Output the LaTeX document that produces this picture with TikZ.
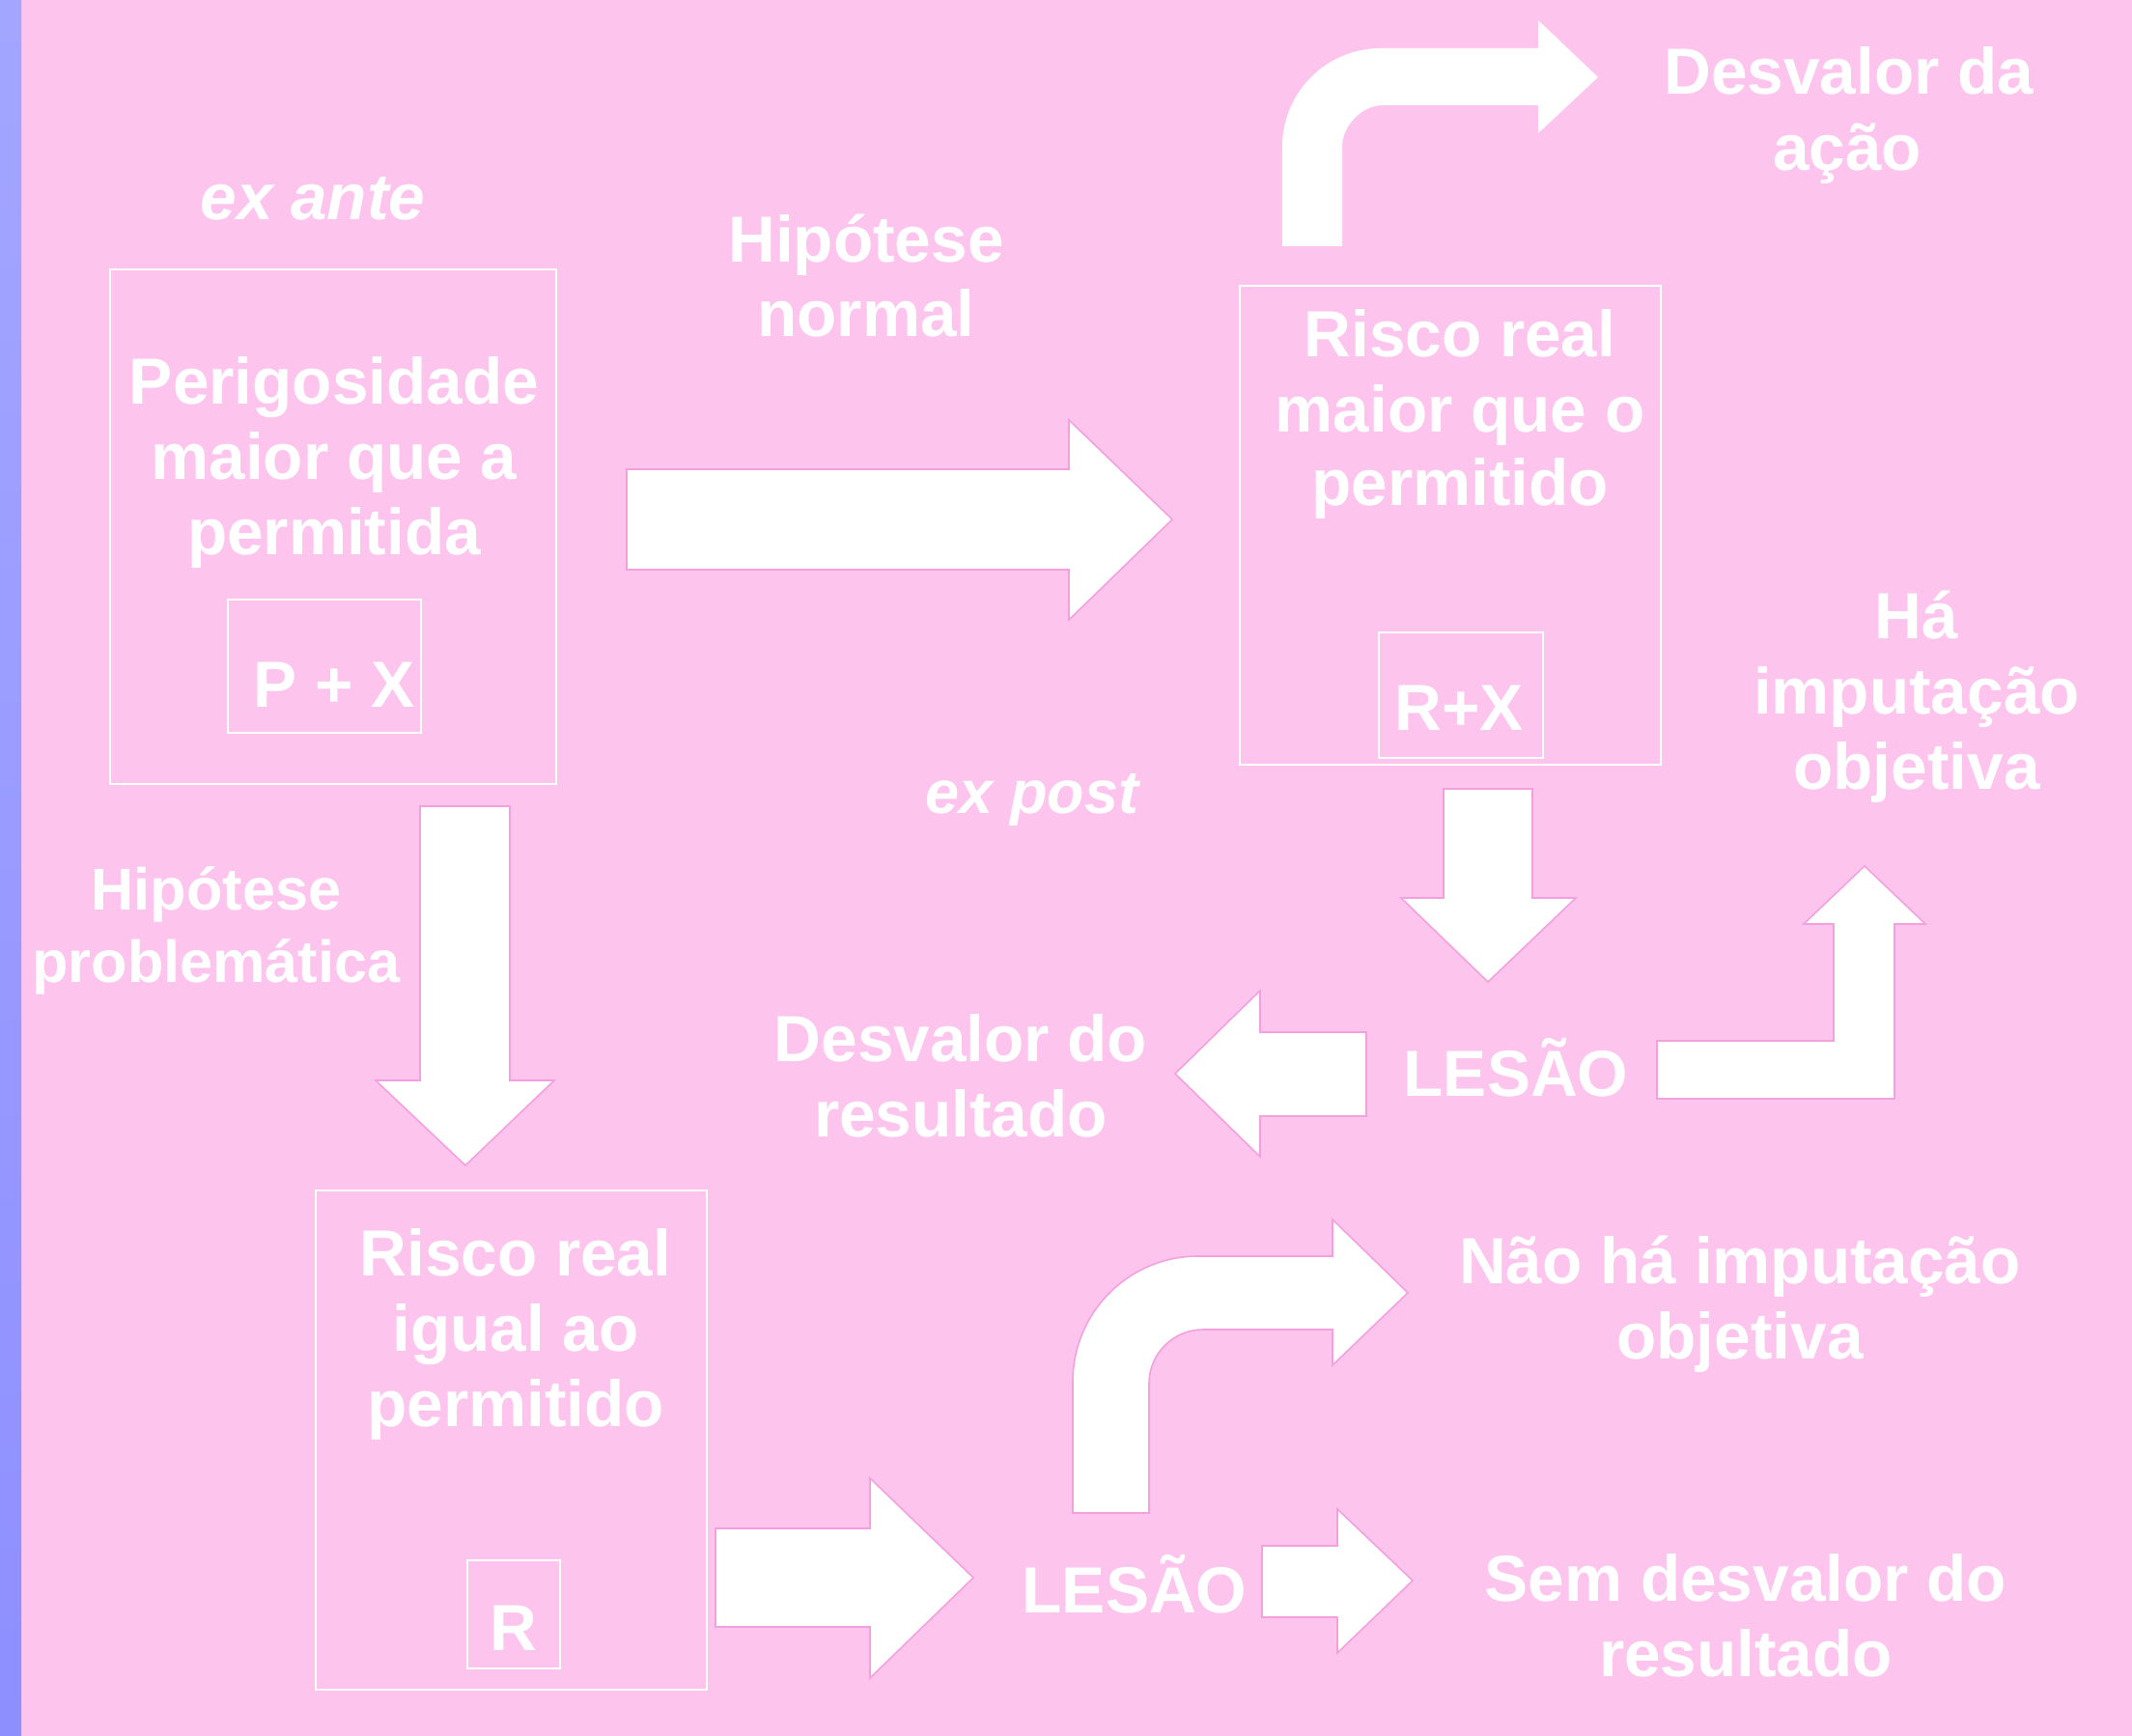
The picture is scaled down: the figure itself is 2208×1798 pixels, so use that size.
\documentclass[tikz,border=0pt]{standalone}
\usepackage{fontspec}
\setmainfont{Liberation Sans}
\definecolor{bgpink}{RGB}{253,197,238}
\definecolor{arrowpink}{RGB}{245,160,222}
\definecolor{bartop}{RGB}{163,166,255}
\definecolor{barbot}{RGB}{142,143,255}
\tikzset{
  txt/.style={text=white, font=\bfseries\fontsize{19.2}{22}\selectfont, inner sep=0pt, anchor=base},
  smalltxt/.style={txt, font=\bfseries\fontsize{17.4}{20}\selectfont},
  itxt/.style={txt, font=\bfseries\itshape\fontsize{19.2}{22}\selectfont},
  sitxt/.style={txt, font=\bfseries\itshape\fontsize{17.9}{21}\selectfont},
  blockarrow/.style={fill=white, draw=arrowpink, line width=0.45pt, line join=miter},
  plainarrow/.style={fill=white},
  frame/.style={draw=white, line width=0.6pt}
}
\begin{document}
\begin{tikzpicture}[x=0.01cm, y=-0.01cm]
\useasboundingbox (0,0) rectangle (2208,1798);
\fill[bgpink] (0,0) rectangle (2208,1798);
\shade[top color=bartop, bottom color=barbot] (0,0) rectangle (22,1798);

% frames
\draw[frame] (114,279) rectangle (576,812);
\draw[frame] (236,621) rectangle (436,759);
\draw[frame] (1284,296) rectangle (1720,792);
\draw[frame] (1428,655) rectangle (1598,785);
\draw[frame] (327,1233) rectangle (732,1750);
\draw[frame] (484,1616) rectangle (580,1728);

% block arrows
% A1 big right
\draw[blockarrow] (649,486) -- (1107,486) -- (1107,435) -- (1214,538) -- (1107,642) -- (1107,590) -- (649,590) -- cycle;
% A2 bent top
\fill[plainarrow] (1328,255) -- (1328,152) .. controls (1328,95.7) and (1373.7,50) .. (1430,50)
  -- (1593,50) -- (1593,21) -- (1655,80) -- (1593,138) -- (1593,109) -- (1432,109)
  .. controls (1408.8,109) and (1390,132.2) .. (1390,151) -- (1390,255) -- cycle;
% A3 down right
\draw[blockarrow] (1495,817) -- (1587,817) -- (1587,930) -- (1632,930) -- (1541,1017) -- (1451,930) -- (1495,930) -- cycle;
% A4 bent up
\draw[blockarrow] (1716,1078) -- (1899,1078) -- (1899,957) -- (1868,957) -- (1931,897) -- (1994,957) -- (1962,957) -- (1962,1138) -- (1716,1138) -- cycle;
% A5 left
\draw[blockarrow] (1415,1069) -- (1305,1069) -- (1305,1026) -- (1217,1112) -- (1305,1198) -- (1305,1156) -- (1415,1156) -- cycle;
% A6 down left
\draw[blockarrow] (435,835) -- (528,835) -- (528,1119) -- (574,1119) -- (482,1207) -- (389,1119) -- (435,1119) -- cycle;
% A7 right bottom
\draw[blockarrow] (741,1583) -- (901,1583) -- (901,1531) -- (1008,1634) -- (901,1738) -- (901,1685) -- (741,1685) -- cycle;
% A8 bent bottom
\draw[blockarrow] (1111,1567) -- (1111,1431) .. controls (1111,1359.2) and (1169.2,1301) .. (1241,1301)
  -- (1380,1301) -- (1380,1263) -- (1458,1339) -- (1380,1414) -- (1380,1377) -- (1246,1377)
  .. controls (1215.1,1377) and (1190,1402.1) .. (1190,1433) -- (1190,1567) -- cycle;
% A9 small right
\draw[blockarrow] (1307,1601) -- (1385,1601) -- (1385,1563) -- (1463,1637) -- (1385,1712) -- (1385,1675) -- (1307,1675) -- cycle;

% texts
\node[itxt] (exante) at (324,228) {ex ante};
\node[txt] (b1a) at (346,419) {Perigosidade};
\node[txt] (b1b) at (346,497) {maior que a};
\node[txt] (b1c) at (346,575) {permitida};
\node[txt] (px) at (346,733) {P + X};
\node[txt] (hna) at (897,272) {Hipótese};
\node[txt] (hnb) at (897,349) {normal};
\node[txt] (b2a) at (1512,370) {Risco real};
\node[txt] (b2b) at (1512,448) {maior que o};
\node[txt] (b2c) at (1512,524) {permitido};
\node[txt] (rx) at (1511,757) {R+X};
\node[txt] (dva) at (1915,98) {Desvalor da};
\node[txt] (dvb) at (1913,177) {ação};
\node[txt] (hia) at (1985,662) {Há};
\node[txt] (hib) at (1985,740) {imputação};
\node[txt] (hic) at (1985,818) {objetiva};
\node[sitxt] (expost) at (1069,843) {ex post};
\node[smalltxt] (hpa) at (224,943) {Hipótese};
\node[smalltxt] (hpb) at (224,1018) {problemática};
\node[txt] (dra) at (995,1100) {Desvalor do};
\node[txt] (drb) at (995,1178) {resultado};
\node[txt] (les1) at (1570,1136) {LESÃO};
\node[txt] (b3a) at (534,1322) {Risco real};
\node[txt] (b3b) at (534,1400) {igual ao};
\node[txt] (b3c) at (534,1478) {permitido};
\node[txt] (r) at (532,1709) {R};
\node[txt] (les2) at (1175,1670) {LESÃO};
\node[txt] (nha) at (1802,1330) {Não há imputação};
\node[txt] (nhb) at (1802,1408) {objetiva};
\node[txt] (sda) at (1808,1659) {Sem desvalor do};
\node[txt] (sdb) at (1808,1736) {resultado};
\end{tikzpicture}
\end{document}
